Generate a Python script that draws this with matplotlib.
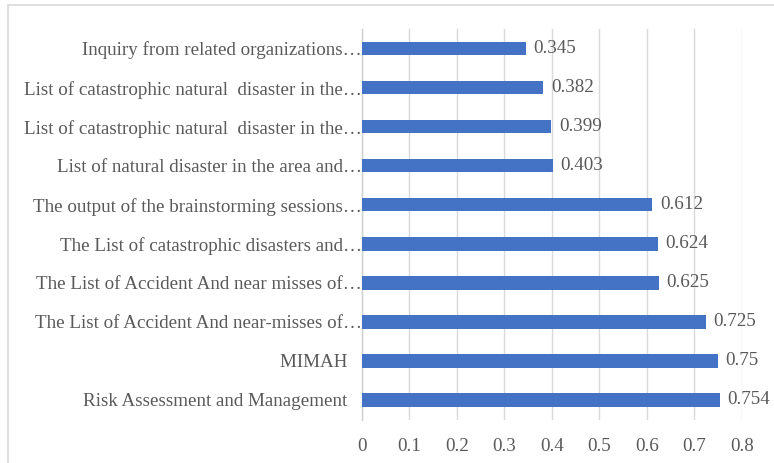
import matplotlib
matplotlib.use("Agg")
import matplotlib.pyplot as plt
from matplotlib.patches import Rectangle

categories = [
    "Risk Assessment and Management   ",
    "MIMAH   ",
    "The List of Accident And near-misses of\u2026",
    "The List of Accident And near misses of\u2026",
    "The List of catastrophic disasters and\u2026",
    "The output of the brainstorming sessions\u2026",
    "List of natural disaster in the area and\u2026",
    "List of catastrophic natural  disaster in the\u2026",
    "List of catastrophic natural  disaster in the\u2026",
    "Inquiry from related organizations\u2026",
]
values = [0.754, 0.75, 0.725, 0.625, 0.624, 0.612, 0.403, 0.399, 0.382, 0.345]
value_labels = ["0.754", "0.75", "0.725", "0.625", "0.624", "0.612", "0.403", "0.399", "0.382", "0.345"]
xticks = [0, 0.1, 0.2, 0.3, 0.4, 0.5, 0.6, 0.7, 0.8]
xtick_labels = ["0", "0.1", "0.2", "0.3", "0.4", "0.5", "0.6", "0.7", "0.8"]

plt.rcParams['font.family'] = ['Liberation Serif', 'DejaVu Serif']
text_color = "#595959"
fs = 13.7

W, H = 774, 463
fig = plt.figure(figsize=(W / 100, H / 100), dpi=100)
fig.patch.set_facecolor("white")

# outer chart border
fig.patches.append(Rectangle((8 / W, -0.05), 1.1, 1 - 5 / H + 0.05, transform=fig.transFigure,
                             fill=False, edgecolor="#D9D9D9", linewidth=1.2, zorder=0))

x0, x1 = 361.7, 741.7
ytop, ybot = 29, 419.5
ax = fig.add_axes([x0 / W, 1 - ybot / H, (x1 - x0) / W, (ybot - ytop) / H])

ypos = list(range(len(categories)))
ax.barh(ypos, values, height=0.345, color="#4472C4", zorder=3)
ax.set_ylim(-0.5, len(categories) - 0.5)
ax.set_xlim(0, 0.8)

for y, v, lab in zip(ypos, values, value_labels):
    ax.text(v + 0.016, y, lab, va="center", ha="left", fontsize=fs, color=text_color)

ax.set_yticks(ypos)
ax.set_yticklabels(categories, fontsize=fs, color=text_color)
ax.set_xticks(xticks)
ax.set_xticklabels(xtick_labels, fontsize=fs, color=text_color)
ax.tick_params(axis="both", length=0)
ax.tick_params(axis="y", pad=0)
ax.tick_params(axis="x", pad=13)

ax.grid(axis="x", color="#D9D9D9", linewidth=1, zorder=0)
for s in ["top", "right", "bottom"]:
    ax.spines[s].set_visible(False)
ax.spines["left"].set_color("#D0D0D0")
ax.spines["left"].set_linewidth(1)

fig.savefig("out.png", dpi=100)
